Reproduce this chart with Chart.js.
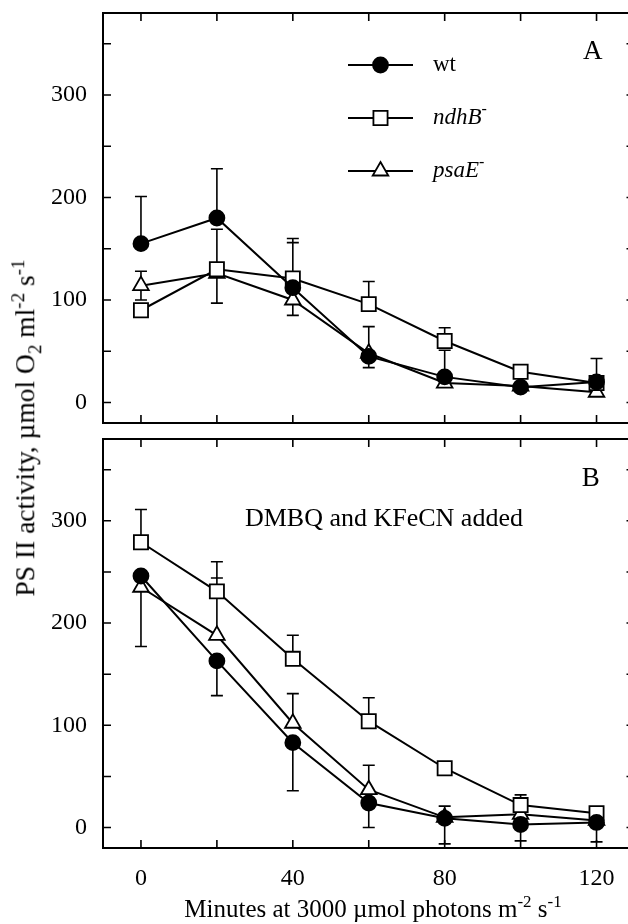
<!DOCTYPE html>
<html>
<head>
<meta charset="utf-8">
<script src="https://cdn.jsdelivr.net/npm/chart.js@4.4.1/dist/chart.umd.min.js"></script>
<style>
  html, body { margin: 0; padding: 0; background: #fff; }
  #wrap { position: relative; width: 628px; height: 924px; overflow: hidden; }
  canvas { position: absolute; left: 0; }
  #cA { top: 0; }
  #cB { top: 430px; }
  .t { position: absolute; font-family: "Liberation Serif", "Times New Roman", serif;
       color: #000; white-space: nowrap; line-height: 1; }
  .t sup, .t sub { line-height: 0; }
  #ytitle { font-size: 27.5px; left: 25px; top: 428px; transform: translate(-50%, -50%) rotate(-90deg); }
  #ytitle sup, #ytitle sub { font-size: 19px; }
  #xtitle { font-size: 25px; left: 373px; top: 908px; transform: translate(-50%, -50%); }
  #xtitle sup { font-size: 17px; }
</style>
</head>
<body>
<div id="wrap">
  <canvas id="cA" width="640" height="430"></canvas>
  <canvas id="cB" width="640" height="494"></canvas>
  <div class="t" id="ytitle">PS II activity, &micro;mol O<sub>2</sub> ml<sup>-2</sup> s<sup>-1</sup></div>
  <div class="t" id="xtitle">Minutes at 3000 &micro;mol photons m<sup>-2</sup> s<sup>-1</sup></div>
</div>
<script>
const minutes = [0, 20, 40, 60, 80, 100, 120];
const seriesNames = ['wt', 'ndhB⁻', 'psaE⁻'];

// Panel A - no acceptors
const wtA   = [155, 180, 112, 45, 25, 15, 20];
const ndhBA = [90, 130, 121, 96, 60, 30, 19];
const psaEA = [114, 126, 100, 48, 19, 16, 10];
const wtAUp   = [46, 48, 48, 29, 26, 0, 23];
const wtADn   = [0, 0, 0, 11, 0, 0, 0];
const ndhBAUp = [0, 39, 35, 22, 13, 0, 0];
const ndhBADn = [0, 33, 0, 0, 0, 0, 0];
const psaEAUp = [14, 0, 0, 0, 0, 0, 0];
const psaEADn = [14, 0, 15, 0, 0, 0, 0];

// Panel B - DMBQ and KFeCN added
const wtB   = [246, 163, 83, 24, 9, 3, 5];
const ndhBB = [279, 231, 165, 104, 58, 22, 14];
const psaEB = [235, 188, 102, 37, 10, 13, 7];
const wtBUp   = [0, 0, 0, 0, 0, 0, 0];
const wtBDn   = [69, 34, 47, 24, 25, 16, 19];
const ndhBBUp = [32, 29, 23, 23, 0, 10, 0];
const ndhBBDn = [0, 0, 0, 0, 0, 0, 0];
const psaEBUp = [0, 56, 29, 24, 11, 0, 0];
const psaEBDn = [0, 0, 0, 0, 0, 0, 0];

const xTicks  = [0, 20, 40, 60, 80, 100, 120];
const xLabels = [0, 40, 80, 120];
const yTicks  = [0, 50, 100, 150, 200, 250, 300, 350];
const yLabels = [0, 100, 200, 300];

const FONT = '"Liberation Serif", "Times New Roman", serif';
const styles = [
  { pointStyle: 'circle',   radius: 7.5, fill: '#000', italic: false },
  { pointStyle: 'rect',     radius: 10,  fill: '#fff', italic: true },
  { pointStyle: 'triangle', radius: 9,   fill: '#fff', italic: true },
];

function marker(ctx, st, x, y) {
  ctx.save();
  ctx.fillStyle = st.fill;
  ctx.strokeStyle = '#000';
  ctx.lineWidth = 1.8;
  Chart.helpers.drawPoint(ctx, { pointStyle: st.pointStyle, radius: st.radius, borderWidth: 1.8, rotation: 0 }, x, y);
  ctx.restore();
}

// box with inward ticks on all four sides
const framePlugin = {
  id: 'frame',
  afterDraw(chart) {
    const { ctx, chartArea: a, scales: { x, y } } = chart;
    ctx.save();
    ctx.strokeStyle = '#000';
    ctx.lineWidth = 2;
    ctx.strokeRect(a.left, a.top, a.right - a.left, a.bottom - a.top);
    ctx.lineWidth = 1.6;
    ctx.beginPath();
    xTicks.forEach(v => {
      const px = x.getPixelForValue(v);
      ctx.moveTo(px, a.top); ctx.lineTo(px, a.top + 8);
      ctx.moveTo(px, a.bottom); ctx.lineTo(px, a.bottom - 8);
    });
    yTicks.forEach(v => {
      const py = y.getPixelForValue(v);
      ctx.moveTo(a.left, py); ctx.lineTo(a.left + 8, py);
      ctx.moveTo(a.right, py); ctx.lineTo(a.right - 8, py);
    });
    ctx.stroke();
    ctx.restore();
  }
};

const errorBarPlugin = {
  id: 'errbars',
  beforeDatasetsDraw(chart) {
    const { ctx, scales: { x, y } } = chart;
    ctx.save();
    ctx.strokeStyle = '#000';
    ctx.lineWidth = 1.6;
    ctx.beginPath();
    chart.data.datasets.forEach(ds => {
      ds.data.forEach((p, i) => {
        const px = x.getPixelForValue(p.x);
        const py = y.getPixelForValue(p.y);
        [ds.errUp[i], -ds.errDn[i]].forEach(e => {
          if (!e) return;
          const ey = y.getPixelForValue(p.y + e);
          ctx.moveTo(px, py); ctx.lineTo(px, ey);
          ctx.moveTo(px - 6, ey); ctx.lineTo(px + 6, ey);
        });
      });
    });
    ctx.stroke();
    ctx.restore();
  }
};

// free text placed in data coordinates
const notesPlugin = {
  id: 'notes',
  afterDraw(chart, args, opts) {
    const { ctx, scales: { x, y } } = chart;
    ctx.save();
    ctx.fillStyle = '#000';
    ctx.textAlign = 'center';
    ctx.textBaseline = 'middle';
    (opts.items || []).forEach(n => {
      ctx.font = `${n.size}px ${FONT}`;
      ctx.fillText(n.text, x.getPixelForValue(n.x), y.getPixelForValue(n.y));
    });
    ctx.restore();
  }
};

const keyPlugin = {
  id: 'key',
  afterDraw(chart, args, opts) {
    if (!opts.show) return;
    const { ctx } = chart;
    ctx.save();
    chart.data.datasets.forEach((ds, i) => {
      const yy = opts.ys[i];
      ctx.strokeStyle = '#000';
      ctx.lineWidth = 2;
      ctx.beginPath();
      ctx.moveTo(opts.x0, yy); ctx.lineTo(opts.x1, yy);
      ctx.stroke();
      marker(ctx, styles[i], (opts.x0 + opts.x1) / 2, yy);
      ctx.fillStyle = '#000';
      ctx.textAlign = 'left';
      ctx.textBaseline = 'middle';
      const sup = ds.label.endsWith('⁻');
      const base = sup ? ds.label.slice(0, -1) : ds.label;
      ctx.font = `${styles[i].italic ? 'italic ' : ''}23px ${FONT}`;
      ctx.fillText(base, opts.textX, yy);
      if (sup) {
        const w = ctx.measureText(base).width;
        ctx.font = `16px ${FONT}`;
        ctx.fillText('-', opts.textX + w, yy - 8);
      }
    });
    ctx.restore();
  }
};

function makeSets(vals, ups, dns) {
  return vals.map((v, k) => ({
    label: seriesNames[k],
    data: minutes.map((m, i) => ({ x: m, y: v[i] })),
    errUp: ups[k],
    errDn: dns[k],
    borderColor: '#000',
    borderWidth: 2,
    tension: 0,
    fill: false,
    pointStyle: styles[k].pointStyle,
    pointRadius: styles[k].radius,
    pointBackgroundColor: styles[k].fill,
    pointBorderColor: '#000',
    pointBorderWidth: 1.8,
    clip: false,
  }));
}

function makePanel(id, datasets, cfg) {
  return new Chart(document.getElementById(id), {
    type: 'line',
    data: { datasets },
    plugins: [errorBarPlugin, framePlugin, notesPlugin, keyPlugin],
    options: {
      responsive: false,
      animation: false,
      events: [],
      layout: { autoPadding: false, padding: { top: cfg.padTop, bottom: cfg.padBottom, left: 0, right: 5.5 } },
      plugins: {
        legend: { display: false },
        tooltip: { enabled: false },
        notes: { items: cfg.notes },
        key: cfg.key,
      },
      scales: {
        x: {
          type: 'linear', min: -10, max: 130,
          grid: { display: false }, border: { display: false },
          ticks: {
            display: cfg.showX, autoSkip: false, maxRotation: 0, padding: 8,
            color: '#000', font: { family: FONT, size: 24 },
            callback: v => xLabels.includes(v) ? String(v) : ''
          },
          afterBuildTicks: s => { s.ticks = xTicks.map(v => ({ value: v })); },
          afterFit: s => { s.height = cfg.xHeight; s.paddingLeft = 0; s.paddingRight = 0; }
        },
        y: {
          min: -20, max: 380,
          grid: { display: false }, border: { display: false },
          ticks: {
            autoSkip: false, padding: 8,
            color: '#000', font: { family: FONT, size: 24 },
            callback: v => yLabels.includes(v) ? String(v) : ''
          },
          afterBuildTicks: s => { s.ticks = yTicks.map(v => ({ value: v })); },
          afterFit: s => { s.width = 103; s.paddingTop = 0; s.paddingBottom = 0; }
        }
      }
    }
  });
}

makePanel('cA',
  makeSets([wtA, ndhBA, psaEA], [wtAUp, ndhBAUp, psaEAUp], [wtADn, ndhBADn, psaEADn]),
  {
    padTop: 13, padBottom: 7, xHeight: 0, showX: false,
    notes: [{ text: 'A', x: 119, y: 342, size: 27 }],
    key: { show: true, x0: 348, x1: 413, ys: [65, 118, 171], textX: 433 }
  });

makePanel('cB',
  makeSets([wtB, ndhBB, psaEB], [wtBUp, ndhBBUp, psaEBUp], [wtBDn, ndhBBDn, psaEBDn]),
  {
    padTop: 9, padBottom: 0, xHeight: 76, showX: true,
    notes: [
      { text: 'B', x: 118.5, y: 341, size: 27 },
      { text: 'DMBQ and KFeCN added', x: 64, y: 302, size: 26 }
    ],
    key: { show: false }
  });
</script>
</body>
</html>
